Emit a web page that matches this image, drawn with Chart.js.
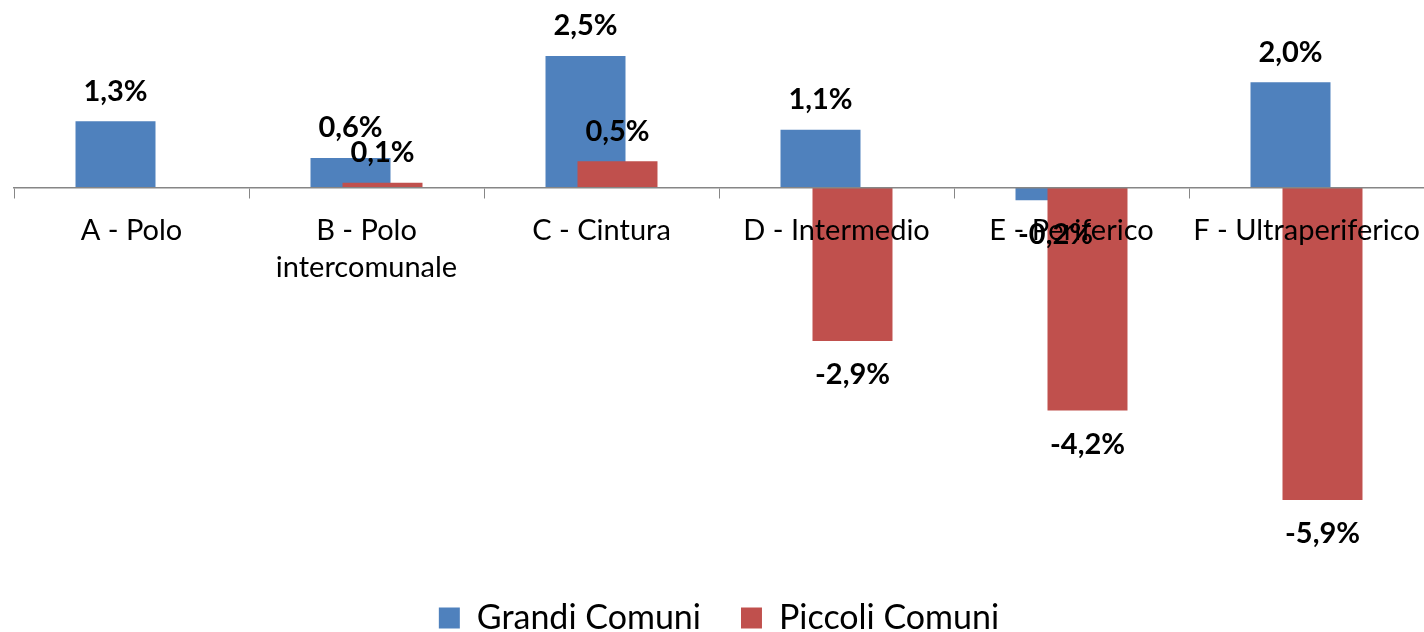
<!DOCTYPE html>
<html>
<head>
<meta charset="utf-8">
<script src="https://cdn.jsdelivr.net/npm/chart.js@4.4.1/dist/chart.umd.min.js"></script>
<style>
  html, body { margin: 0; padding: 0; background: #fff; }
</style>
</head>
<body>
<canvas id="grafico" width="1424" height="632"></canvas>
<script>
var categorie = ["A - Polo", ["B - Polo", "intercomunale"], "C - Cintura", "D - Intermedio", "E - Periferico", "F - Ultraperiferico"];
var nomiSerie = ["Grandi Comuni", "Piccoli Comuni"];
var grandiComuni = [1.26, 0.56, 2.5, 1.1, -0.24, 2.0];
var piccoliComuni = [null, 0.09, 0.5, -2.92, -4.24, -5.94];

var FONT = "Lato, 'DejaVu Sans', sans-serif";
Chart.defaults.font.family = FONT;
Chart.defaults.color = "#000";

// le barre rosse vanno disegnate sopra quelle blu
var ordine = {
    id: "ordine",
    beforeDatasetsDraw: function (chart) {
        chart.getDatasetMeta(0).controller.draw();
        chart.getDatasetMeta(1).controller.draw();
        return false;
    }
};

// etichette dei valori sopra/sotto le barre
var etichette = {
    id: "etichette",
    afterDraw: function (chart) {
        var ctx = chart.ctx;
        ctx.save();
        ctx.font = "bold 29px " + FONT;
        ctx.fillStyle = "#000";
        ctx.textAlign = "center";
        ctx.textBaseline = "middle";
        chart.data.datasets.forEach(function (ds, i) {
            chart.getDatasetMeta(i).data.forEach(function (bar, j) {
                var v = ds.data[j];
                if (v === null) return;
                var y = v >= 0 ? bar.y - 30 : bar.y + 34;
                ctx.fillText(v.toFixed(1).replace(".", ",") + "%", bar.x, y);
            });
        });
        ctx.restore();
    }
};

var ctx = document.getElementById("grafico").getContext("2d");
new Chart(ctx, {
    type: "bar",
    data: {
        labels: categorie,
        datasets: [
            {
                label: nomiSerie[0],
                data: grandiComuni,
                backgroundColor: "#4F81BD",
                borderWidth: 0
            },
            {
                label: nomiSerie[1],
                data: piccoliComuni,
                backgroundColor: "#C0504D",
                borderWidth: 0
            }
        ]
    },
    options: {
        responsive: false,
        animation: false,
        categoryPercentage: 0.2723,
        barPercentage: 2.5,
        layout: { padding: { left: 14, right: 0, top: 0, bottom: -13 } },
        plugins: {
            tooltip: { enabled: false },
            legend: {
                position: "bottom",
                labels: {
                    boxWidth: 21,
                    boxHeight: 21,
                    padding: 40,
                    color: "#000",
                    font: { size: 34 }
                }
            }
        },
        scales: {
            x: {
                position: { y: 0 },
                offset: true,
                grid: {
                    display: true, offset: true, drawOnChartArea: false,
                    tickLength: 24, tickBorderDash: [10, 40],
                    color: "#868686", z: 1
                },
                border: { display: true, color: "#868686", width: 1.5, z: 1 },
                ticks: {
                    autoSkip: false,
                    maxRotation: 0,
                    padding: 0,
                    color: "#000",
                    z: 1,
                    font: { size: 29, lineHeight: 1.3 }
                }
            },
            y: {
                display: false,
                min: -7.1,
                max: 3.565
            }
        }
    },
    plugins: [ordine, etichette]
});
</script>
</body>
</html>
